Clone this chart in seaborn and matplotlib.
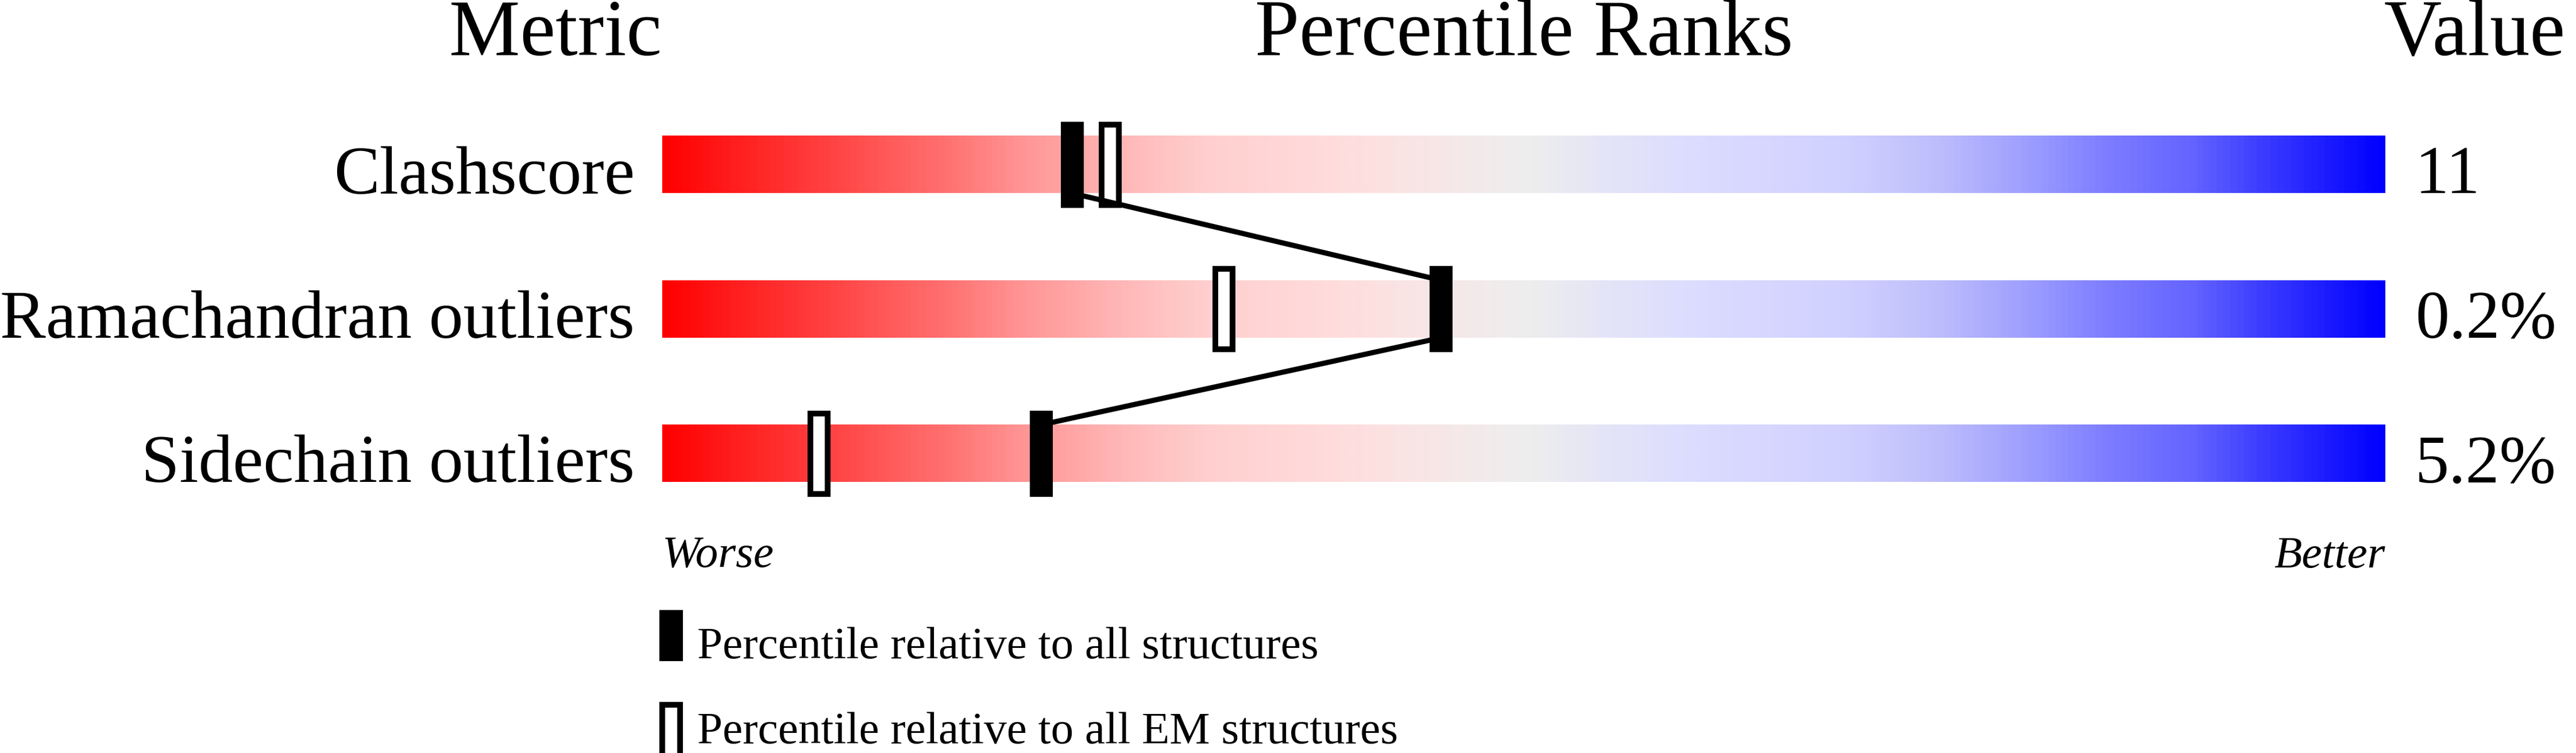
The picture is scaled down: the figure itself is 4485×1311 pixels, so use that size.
import numpy as np
import pandas as pd
import matplotlib
matplotlib.use("Agg")
import matplotlib.pyplot as plt
from matplotlib.colors import LinearSegmentedColormap
from matplotlib.patches import Rectangle
import seaborn as sns

# ---------------- data ----------------
metrics = ["Clashscore", "Ramachandran outliers", "Sidechain outliers"]
values = ["11", "0.2%", "5.2%"]
pct_all = [23.8, 45.2, 22.0]   # percentile relative to all structures
pct_em = [26.0, 32.6, 9.1]     # percentile relative to all EM structures
legend_labels = ["Percentile relative to all structures",
                 "Percentile relative to all EM structures"]
headers = ["Metric", "Percentile Ranks", "Value"]
end_labels = ["Worse", "Better"]

grad_pos = [0.00, 0.04, 0.08, 0.13, 0.16, 0.21, 0.26, 0.29, 0.32, 0.39, 0.42, 0.47, 0.50,
            0.55, 0.60, 0.69, 0.74, 0.79, 0.84, 0.89, 0.93, 1.00]
grad_rgb = [(255, 0, 0), (255, 30, 30), (255, 55, 55), (255, 90, 90), (255, 110, 110),
            (255, 150, 150), (255, 180, 180), (255, 195, 195), (255, 208, 208),
            (255, 220, 220), (252, 226, 226), (243, 234, 234), (238, 238, 238),
            (228, 228, 248), (220, 220, 255), (208, 208, 255), (190, 190, 252),
            (160, 160, 255), (125, 125, 255), (100, 100, 255), (60, 60, 255), (0, 0, 255)]

# ---------------- figure ----------------
sns.set_theme(style="white")
plt.rcParams["font.family"] = ["Liberation Serif", "DejaVu Serif"]
plt.rcParams["text.color"] = "black"

W, H, DPI = 4485, 1311, 100
fig = plt.figure(figsize=(W / DPI, H / DPI), dpi=DPI, facecolor="white")

def fx(px):
    return px / W

def fy(py):
    return 1 - py / H

row_top_px, row_step_px = 286.5, 251.5
ax_left, ax_right = 1153, 4153
ax_top = row_top_px - row_step_px / 2
ax_bot = row_top_px + row_step_px * 2.5
ax = fig.add_axes([fx(ax_left), fy(ax_bot), (ax_right - ax_left) / W, (ax_bot - ax_top) / H])
ax.set_axis_off()

px_per_pct = (ax_right - ax_left) / 100.0
bar_h = 100 / row_step_px
mk_h = 150 / row_step_px
mk_w = 40 / px_per_pct
em_h = 140 / row_step_px
em_w = 30 / px_per_pct
em_lw = 10 * 72 / DPI

cmap = LinearSegmentedColormap.from_list(
    "pdb", list(zip(grad_pos, [tuple(c / 255 for c in rgb) for rgb in grad_rgb])))
grad = np.linspace(0, 1, 1500)[np.newaxis, :]

rows = np.arange(len(metrics))
for i in rows:
    ax.imshow(grad, cmap=cmap, aspect="auto", interpolation="bilinear",
              extent=(0, 100, i + bar_h / 2, i - bar_h / 2), zorder=1)

# EM markers (open)
ax.barh(rows, [em_w] * len(rows), left=np.array(pct_em) - em_w / 2, height=em_h,
        facecolor="white", edgecolor="black", linewidth=em_lw, zorder=2)

# connecting line between all-structure markers
lx, ly = [], []
for i, p in enumerate(pct_all):
    if i > 0:
        lx.append(p); ly.append(i - bar_h / 2)
    if i < len(pct_all) - 1:
        lx.append(p); ly.append(i + bar_h / 2)
line_df = pd.DataFrame({"x": lx, "y": ly})
sns.lineplot(data=line_df, x="x", y="y", sort=False, estimator=None,
             color="black", linewidth=6.5, ax=ax, zorder=3)

# all-structures markers (filled)
ax.barh(rows, [mk_w] * len(rows), left=np.array(pct_all) - mk_w / 2, height=mk_h,
        color="black", linewidth=0, zorder=4)

ax.set_xlim(0, 100)
ax.set_ylim(len(metrics) - 0.5, -0.5)
ax.set_xlabel(""); ax.set_ylabel("")

# ---------------- text ----------------
hdr_fs, lab_fs, val_fs, small_fs = 100, 86, 85, 57
fig.text(fx(1152), fy(96), headers[0], ha="right", va="baseline", fontsize=hdr_fs)
fig.text(fx(2653), fy(96), headers[1], ha="center", va="baseline", fontsize=hdr_fs)
fig.text(fx(4150), fy(96), headers[2], ha="left", va="baseline", fontsize=hdr_fs)

for i, (m, v) in enumerate(zip(metrics, values)):
    base = row_top_px + i * row_step_px + 50
    fig.text(fx(1105), fy(base), m, ha="right", va="baseline", fontsize=lab_fs)
    fig.text(fx(4205), fy(base), v, ha="left", va="baseline", fontsize=val_fs)

fig.text(fx(1153), fy(987), end_labels[0], ha="left", va="baseline",
         fontsize=small_fs, style="italic")
fig.text(fx(4153), fy(988), end_labels[1], ha="right", va="baseline",
         fontsize=small_fs, style="italic")

# ---------------- legend ----------------
fig.patches.append(Rectangle((fx(1148), fy(1151)), 41 / W, 89 / H,
                             transform=fig.transFigure, facecolor="black",
                             edgecolor="none"))
fig.patches.append(Rectangle((fx(1153), fy(1316)), 31 / W, 89 / H,
                             transform=fig.transFigure, facecolor="white",
                             edgecolor="black", linewidth=em_lw))
fig.text(fx(1214), fy(1146), legend_labels[0], ha="left", va="baseline", fontsize=small_fs)
fig.text(fx(1214), fy(1294), legend_labels[1], ha="left", va="baseline", fontsize=small_fs)

fig.savefig("out.png", dpi=DPI, facecolor="white")
